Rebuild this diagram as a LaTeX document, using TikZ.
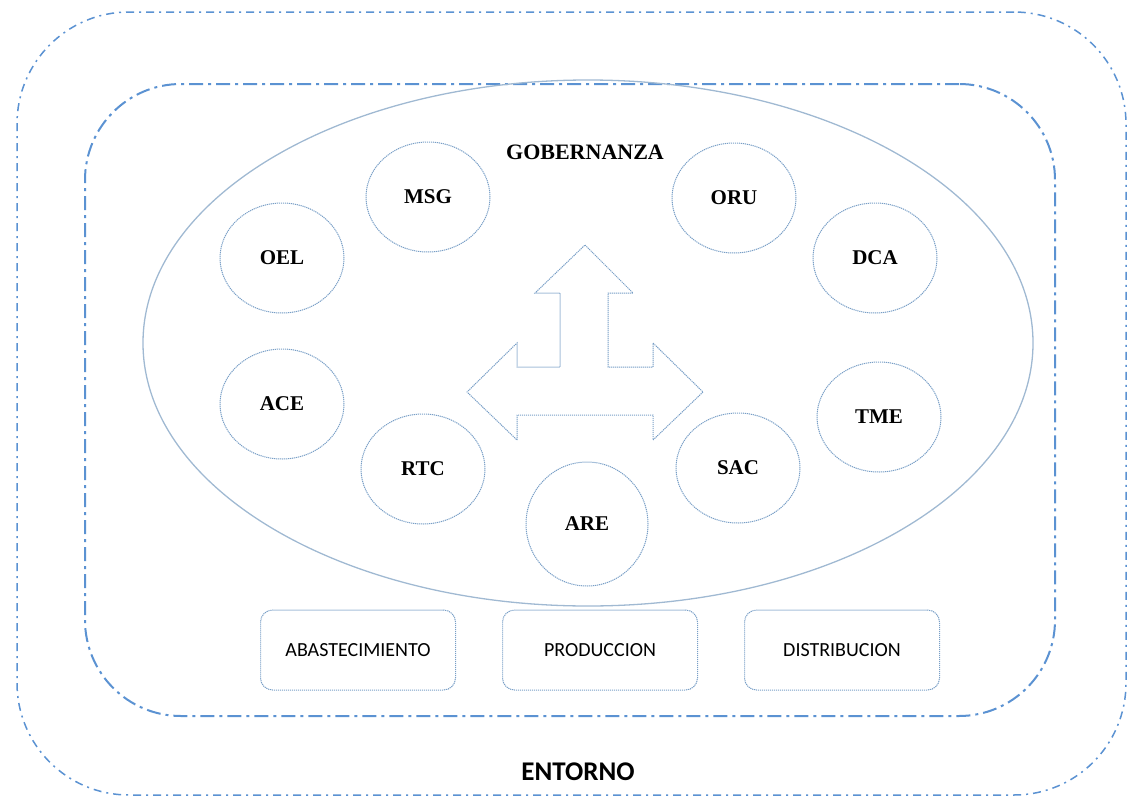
\documentclass[tikz,border=0pt]{standalone}
\usepackage{fontspec}
\setmainfont{Liberation Serif}
\newfontfamily\boxfont{Carlito}
\usetikzlibrary{shapes.geometric}

\definecolor{linea}{RGB}{91,146,210}
\definecolor{punto}{RGB}{120,158,198}
\definecolor{elip}{RGB}{160,185,210}

\tikzset{
	circ/.style={ellipse, draw=punto, dash pattern=on 1.2pt off 0.8pt, line width=1pt, minimum width=124pt, minimum height=110pt, inner sep=0pt, font=\fontsize{21}{24}\selectfont\bfseries},
	proc/.style={rectangle, rounded corners=12pt, draw=punto, dash pattern=on 1.2pt off 0.8pt, line width=1pt, minimum width=195pt, minimum height=80pt, font=\boxfont\fontsize{20}{22}\selectfont}
}

\begin{document}
\begin{tikzpicture}[x=1pt,y=-1pt]
		\useasboundingbox (0,0) rectangle (1127,798);
		
		% entorno
		\node[rectangle, rounded corners=112pt, draw=linea, line width=1.5pt, dash pattern=on 8pt off 5pt on 2pt off 5pt, minimum width=1109pt, minimum height=783pt] at (571.5,403.5) (ent) {};
		\node[font=\boxfont\bfseries\fontsize{27}{30}\selectfont] at (578,772) (entlab) {ENTORNO};
		
		% sistema
		\node[rectangle, rounded corners=96pt, draw=linea, line width=2pt, dash pattern=on 14pt off 5pt on 3pt off 5pt, minimum width=970pt, minimum height=632pt] at (570,400) (sis) {};
		
		% gobernanza
		\node[ellipse, draw=elip, line width=1.3pt, minimum width=890pt, minimum height=526pt] at (588,343) (gob) {};
		\node[font=\fontsize{22}{24}\selectfont\bfseries] at (585,152) (goblab) {GOBERNANZA};
		
		\node[circ] at (428,197) (msg) {MSG};
		\node[circ] at (734,198) (oru) {ORU};
		\node[circ] at (282,258) (oel) {OEL};
		\node[circ] at (875,258) (dca) {DCA};
		\node[circ] at (282,404) (ace) {ACE};
		\node[circ] at (879,417) (tme) {TME};
		\node[circ] at (423,469) (rtc) {RTC};
		\node[circ] at (738,468) (sac) {SAC};
		\node[circ, minimum width=122pt, minimum height=124pt] at (587,524) (are) {ARE};
		
		% flechas
		\draw[punto, dash pattern=on 1.2pt off 0.8pt, line width=1pt] (585,245) -- (633,293) -- (608,293) -- (608,367) -- (653,367) -- (653,343) -- (703,392) -- (653,440) -- (653,415) -- (517,415) -- (517,440) -- (467,392) -- (517,343) -- (517,367) -- (560,367) -- (560,293) -- (535,293) -- cycle;
		
		% procesos
		\node[proc] at (358,650) (aba) {ABASTECIMIENTO};
		\node[proc] at (600,650) (pro) {PRODUCCION};
		\node[proc] at (842,650) (dis) {DISTRIBUCION};
	\end{tikzpicture}
\end{document}
